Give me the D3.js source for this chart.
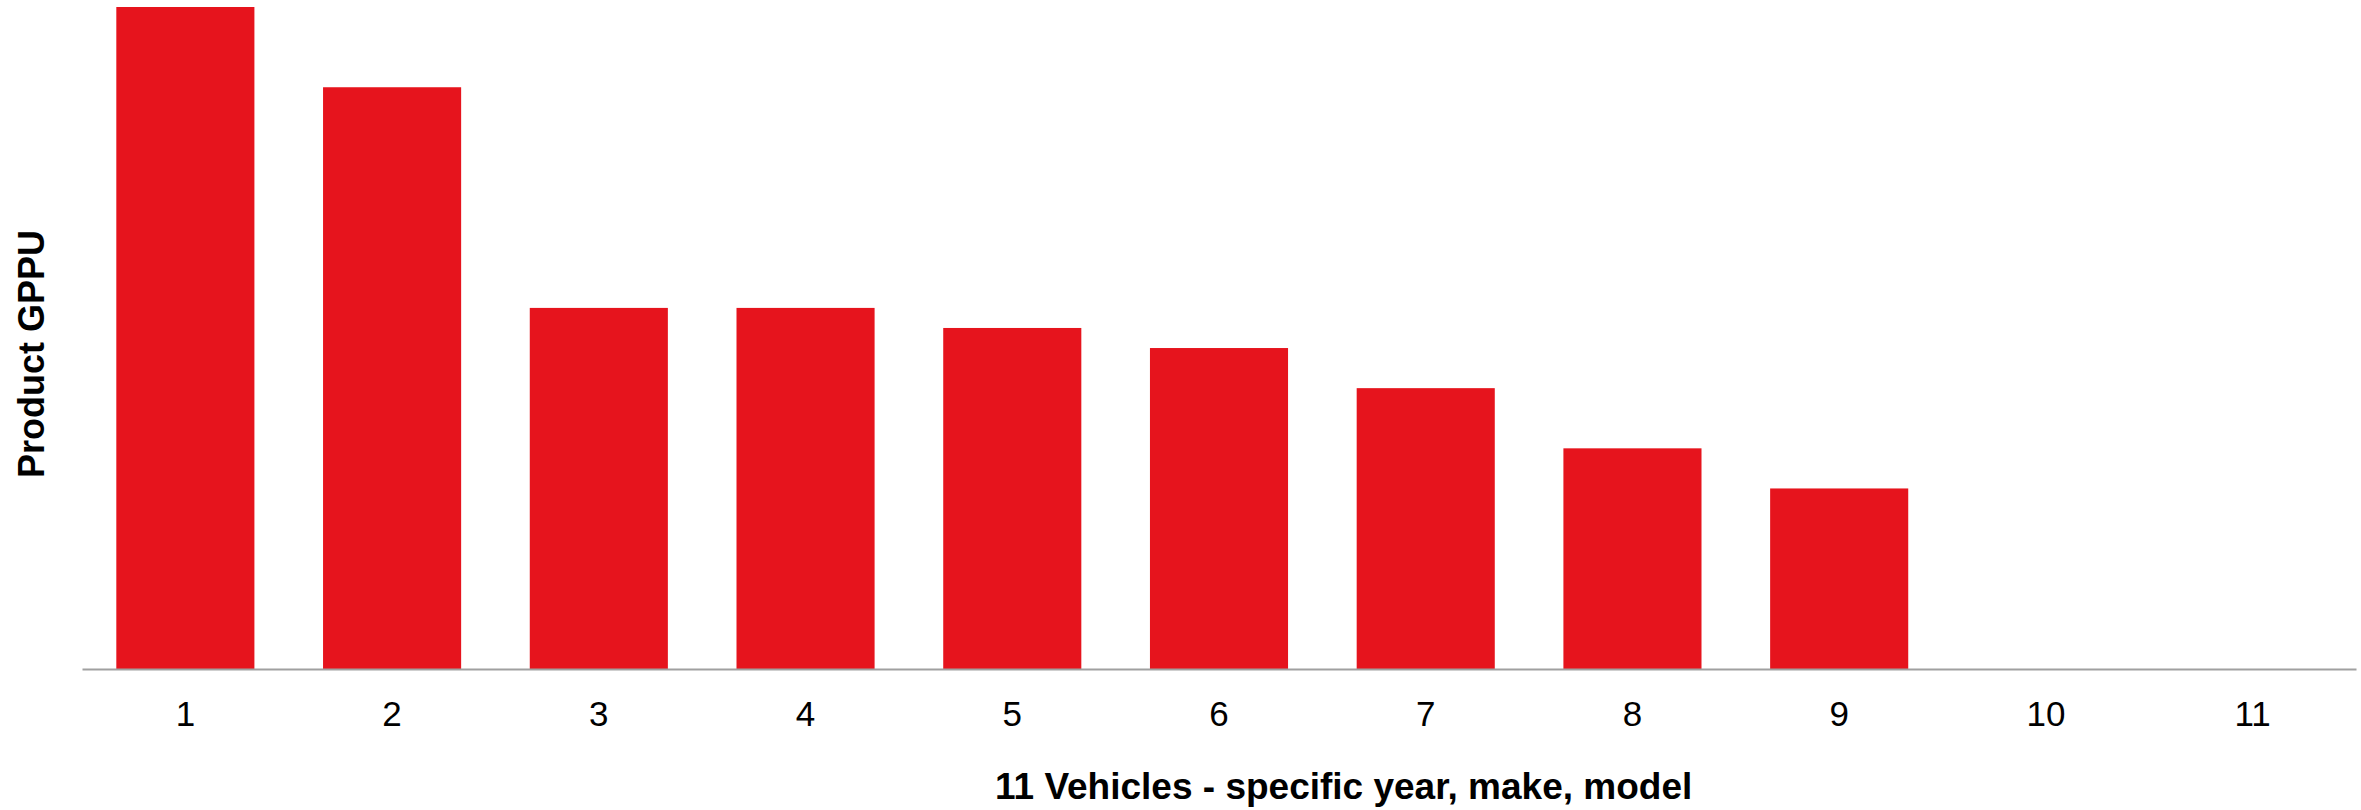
<!DOCTYPE html>
<html>
<head>
<meta charset="utf-8">
<script src="https://cdn.jsdelivr.net/npm/d3@7/dist/d3.min.js"></script>
<style>
  html, body { margin: 0; padding: 0; background: #ffffff; }
  svg { display: block; }
</style>
</head>
<body>
<svg id="chart" width="2361" height="810"></svg>
<script>
// Vehicle categories along the x axis
const vehicles = ["1", "2", "3", "4", "5", "6", "7", "8", "9", "10", "11"];
// Product GPPU per vehicle
const gppu = [33, 29, 18, 18, 17, 16, 14, 11, 9, 0, 0];
// Axis titles
const xTitle = "11 Vehicles - specific year, make, model";
const yTitle = "Product GPPU";

const width = 2361, height = 810;
const margin = { top: 7, right: 5, bottom: 141, left: 82 };
const svg = d3.select("#chart");

const x = d3.scaleBand()
  .domain(vehicles)
  .range([margin.left, width - margin.right])
  .paddingInner(0.332)
  .paddingOuter(0.166);

const y = d3.scaleLinear()
  .domain([0, 33])
  .range([height - margin.bottom, margin.top]);

// Bars
svg.append("g")
  .selectAll("rect")
  .data(vehicles.map((v, i) => ({ v, val: gppu[i] })))
  .join("rect")
  .attr("x", d => x(d.v))
  .attr("y", d => y(d.val))
  .attr("width", x.bandwidth())
  .attr("height", d => y(0) - y(d.val))
  .attr("fill", "#e6141d");

// X axis (baseline + category labels)
const xAxis = svg.append("g")
  .attr("transform", `translate(0,${y(0)})`)
  .call(d3.axisBottom(x).tickSize(0).tickPadding(0));
xAxis.select(".domain")
  .attr("stroke", "#a0a0a0")
  .attr("stroke-width", 2);
xAxis.selectAll("text")
  .attr("fill", "#000")
  .attr("font-family", "Arial, 'Liberation Sans', sans-serif")
  .attr("font-size", 35)
  .attr("dy", null)
  .attr("y", 57);

// X axis title
svg.append("text")
  .attr("x", 995)
  .attr("y", 799)
  .attr("text-anchor", "start")
  .attr("font-family", "Arial, 'Liberation Sans', sans-serif")
  .attr("font-weight", "bold")
  .attr("font-size", 37)
  .attr("fill", "#000")
  .text(xTitle);

// Y axis title
svg.append("text")
  .attr("transform", `translate(44,354) rotate(-90)`)
  .attr("text-anchor", "middle")
  .attr("font-family", "Arial, 'Liberation Sans', sans-serif")
  .attr("font-weight", "bold")
  .attr("font-size", 36)
  .attr("fill", "#000")
  .text(yTitle);
</script>
</body>
</html>
